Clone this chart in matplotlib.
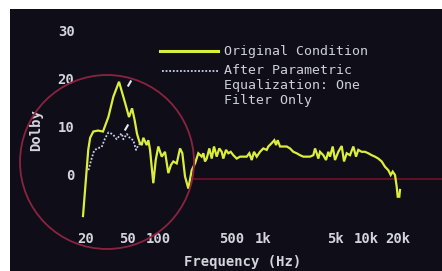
import matplotlib
matplotlib.use("Agg")
import matplotlib.pyplot as plt
from matplotlib.patches import Rectangle, Ellipse

# ---- data ----
orig_freq = [18.7, 21.0, 21.9, 23.5, 26.1, 29.1, 32.8, 36.6, 41.5, 47.4, 51.8, 55.4, 58.5,
             61.9, 65.4, 68.7, 71.1, 76.7, 79.5, 82.5, 88.7, 93.6, 99.1, 106.9, 115.0, 123.7,
             131.3, 138.2, 149.0, 160.3, 168.7, 179.0, 192.6, 207.7, 223.4, 240.3, 259.1,
             268.5, 278.7, 289.4, 306.6, 323.3, 340.2, 361.1, 382.5, 403.4, 417.9, 443.7,
             466.9, 492.4, 521.5, 562.4, 605.2, 701.9, 743.4, 784.0, 825.0, 875.7, 942.0,
             1013, 1093, 1132, 1221, 1293, 1343, 1394, 1467, 1702, 1831, 1969, 2123, 2284,
             2457, 2851, 3067, 3184, 3306, 3426, 3557, 3826, 4062, 4274, 4438, 4711, 4957,
             5333, 5750, 6052, 6425, 6911, 7435, 7893, 8305, 8955, 9633, 10363, 11173,
             12020, 12932, 13942, 14998, 16135, 17016, 17787, 18716, 19432, 19868, 20584,
             20906]
orig_db = [-8.5, 5.2, 7.7, 9.0, 9.2, 9.0, 12.0, 16.2, 19.3, 15.0, 12.0, 13.8, 11.5,
           8.5, 6.8, 6.2, 7.7, 6.2, 7.2, 5.2, -1.7, 3.1, 5.9, 3.8, 4.8, 0.4,
           2.1, 2.8, 2.4, 5.5, 4.5, -0.3, -2.8, 1.0, 2.4, 4.5, 3.8,
           4.5, 2.8, 3.4, 5.5, 3.4, 5.9, 3.8, 5.5, 4.8, 3.4, 5.2,
           4.5, 4.8, 4.1, 3.4, 3.8, 3.8, 4.5, 3.1, 4.8, 3.8, 4.8,
           5.5, 5.2, 5.9, 6.6, 7.2, 6.2, 7.2, 5.9, 5.9, 5.5, 4.8, 4.5, 4.1,
           3.8, 3.8, 4.1, 5.5, 4.5, 3.4, 4.8, 4.1, 3.1, 4.8, 3.8, 5.9, 3.1,
           4.8, 6.0, 2.8, 4.5, 4.1, 5.9, 3.8, 5.2, 4.8, 4.8, 4.5, 4.1,
           3.8, 3.4, 2.8, 1.7, 1.0, 0.0, 0.7, 0.0, -2.4, -4.5, -4.5,
           -3.1]

eq_freq = [21.1, 22.7, 23.9, 25.5, 28.3, 30.5, 32.8, 34.8, 36.6, 39.5, 42.5, 44.1,
           45.7, 49.3, 53.0, 57.0, 60.5, 63.7, 66.1]
eq_db = [1.0, 3.5, 5.0, 5.5, 5.8, 7.6, 8.8, 8.6, 8.3, 7.4, 8.3, 8.6,
         7.4, 8.5, 7.6, 7.2, 5.2, 6.2, 6.5]

mark_freq = [52.2, 48.2]
mark_db = [19.1, 10.0]

ref_db = -0.9
ref_start = 214

x_ticks = [20, 50, 100, 500, 1000, 5000, 10000, 20000]
x_labels = ["20", "50", "100", "500", "1k", "5k", "10k", "20k"]
y_ticks = [0, 10, 20, 30]
y_labels = ["0", "10", "20", "30"]

legend_labels = ["Original Condition", "After Parametric\nEqualization: One\nFilter Only"]

# ---- figure ----
W, H = 442, 271
fig = plt.figure(figsize=(W / 100, H / 100), dpi=100, facecolor="white")
bg = "#0e0d18"
fig.patches.append(Rectangle((10 / W, 0), 432 / W, 1 - 9 / H, transform=fig.transFigure,
                             facecolor=bg, edgecolor="none", zorder=-10))

ax = fig.add_axes([80 / W, 1 - 226 / H, 362 / W, 217 / H])
ax.set_zorder(1)
ax.set_facecolor("none")
ax.set_xscale("log")
ax.set_xlim(17.5, 52980)
ax.set_ylim(-10.56, 34.37)
for s in ax.spines.values():
    s.set_visible(False)

mono = "DejaVu Sans Mono"
txtc = "#d4d4dc"
ax.set_xticks(x_ticks)
ax.set_xticklabels(x_labels)
ax.xaxis.set_minor_locator(matplotlib.ticker.NullLocator())
ax.set_yticks(y_ticks)
ax.set_yticklabels(y_labels)
ax.tick_params(length=0, colors=txtc, labelsize=10, pad=4)
for lab in ax.get_xticklabels() + ax.get_yticklabels():
    lab.set_family(mono)
    lab.set_fontweight("bold")

yellow = "#dcee3c"
ax.hlines(ref_db, ref_start, 52980, color="#5e1224", lw=1.5, zorder=1)
ax.plot(orig_freq, orig_db, color=yellow, lw=1.6, zorder=3, solid_joinstyle="miter")
ax.plot(eq_freq, eq_db, color="#c8d0f0", lw=1.3, ls=(0, (1, 1)), zorder=4)
ax.plot(mark_freq, mark_db, ls="none", marker=(2, 0, -30), ms=5, mew=1.5,
        color="#e8e8f0", zorder=5)

# circle annotation
fig.patches.append(Ellipse((107 / W, 1 - 162 / H), 174 / W, 174 / H, transform=fig.transFigure,
                           facecolor="none", edgecolor="#8b2340", lw=1.3, zorder=6))

# legend (drawn manually)
fig.lines.append(plt.Line2D([160 / W, 218 / W], [1 - 51 / H, 1 - 51 / H],
                            transform=fig.transFigure, color=yellow, lw=2.2))
fig.lines.append(plt.Line2D([162 / W, 218 / W], [1 - 71 / H, 1 - 71 / H],
                            transform=fig.transFigure, color="#c8d0f0", lw=1.3,
                            ls=(0, (1, 1))))
fig.text(224 / W, 1 - 51 / H, legend_labels[0], family=mono, fontsize=9.5,
         color="#cfcfd8", va="center", ha="left")
fig.text(224 / W, 1 - 64 / H, legend_labels[1], family=mono, fontsize=9.5,
         color="#cfcfd8", va="top", ha="left", linespacing=1.2)

fig.text(243 / W, 1 - 262 / H, "Frequency (Hz)", family=mono, fontsize=10,
         color=txtc, va="center", ha="center", fontweight="bold")
fig.text(36 / W, 1 - 130 / H, "Dolby", family=mono, fontsize=10, rotation=90,
         color=txtc, va="center", ha="center", fontweight="bold")

fig.savefig("out.png", dpi=100, facecolor="white")
